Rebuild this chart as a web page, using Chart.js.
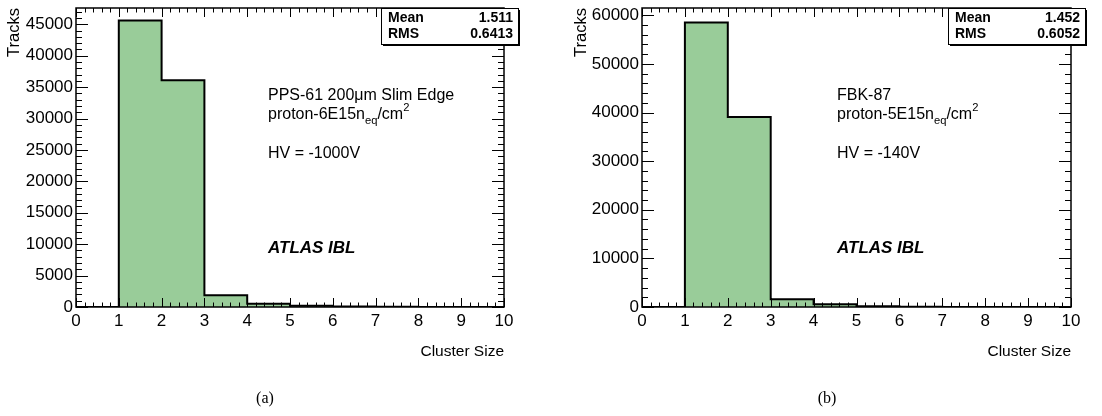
<!DOCTYPE html>
<html>
<head>
<meta charset="utf-8">
<script src="https://cdn.jsdelivr.net/npm/chart.js@4.4.1/dist/chart.umd.min.js"></script>
<style>
  body { margin: 0; background: #fff; }
  #wrap { position: relative; width: 1102px; height: 416px; }
  canvas { position: absolute; top: 0; }
</style>
</head>
<body>
<div id="wrap">
  <canvas id="chartA" width="551" height="416" style="left:0px"></canvas>
  <canvas id="chartB" width="551" height="416" style="left:551px"></canvas>
</div>
<script>
// bin edges of the cluster size histogram (0..10)
var binEdges = [0, 1, 2, 3, 4, 5, 6, 7, 8, 9, 10];
var xTicks = [0, 1, 2, 3, 4, 5, 6, 7, 8, 9, 10];

// (a) PPS-61 200um Slim Edge
var countsA = [0, 45600, 36100, 1860, 520, 200, 80, 35, 15, 8];
var yTicksA = [0, 5000, 10000, 15000, 20000, 25000, 30000, 35000, 40000, 45000];
var statsA = ["1.511", "0.6413"];

// (b) FBK-87
var countsB = [0, 58500, 39100, 1580, 550, 170, 60, 25, 10, 5];
var yTicksB = [0, 10000, 20000, 30000, 40000, 50000, 60000];
var statsB = ["1.452", "0.6052"];

var FONT = "'Liberation Sans', Arial, Helvetica, sans-serif";
var fillGreen = "#99cc99";

// turn the bins into points for a stepped line (left edge of each bin)
function histPoints(counts) {
    var pts = [];
    for (var i = 0; i < counts.length; i++) {
        pts.push({x: binEdges[i], y: counts[i]});
    }
    pts.push({x: binEdges[counts.length], y: counts[counts.length - 1]});
    return pts;
}

// text with subscript / superscript pieces: [text, shift] where shift 0 normal, 1 sub, -1 sup
function drawRich(ctx, parts, x, y, size) {
    var cx = x;
    for (var i = 0; i < parts.length; i++) {
        var t = parts[i][0], s = parts[i][1];
        var fs = s == 0 ? size : size * 0.7;
        ctx.font = fs + "px " + FONT;
        var dy = s == 1 ? size * 0.35 : (s == -1 ? -size * 0.45 : 0);
        ctx.fillText(t, cx, y + dy);
        cx += ctx.measureText(t).width;
    }
}

// ROOT style frame, inner ticks, stats box and labels
var rootDecor = {
    id: "rootDecor",
    afterDatasetsDraw: function(chart, args, opts) {
        var ctx = chart.ctx;
        var xs = chart.scales.x, ys = chart.scales.y;
        var a = chart.chartArea;
        ctx.save();
        ctx.strokeStyle = "#000";
        ctx.lineWidth = 1.5;
        ctx.strokeRect(a.left, a.top, a.right - a.left, a.bottom - a.top);

        // x ticks, top and bottom
        ctx.beginPath();
        for (var k = 0; k <= 50; k++) {
            var v = k * 0.2;
            var px = Math.round(xs.getPixelForValue(v)) + 0.5;
            var len = (k % 5 == 0) ? 9 : 4.5;
            ctx.moveTo(px, a.bottom); ctx.lineTo(px, a.bottom - len);
            ctx.moveTo(px, a.top); ctx.lineTo(px, a.top + len);
        }
        // y ticks, left and right
        var minor = opts.minorStep, major = opts.majorStep;
        for (var v2 = 0; v2 <= ys.max; v2 += minor) {
            var py = Math.round(ys.getPixelForValue(v2)) + 0.5;
            var l2 = (v2 % major == 0) ? 12 : 6;
            ctx.moveTo(a.left, py); ctx.lineTo(a.left + l2, py);
            ctx.moveTo(a.right, py); ctx.lineTo(a.right - l2, py);
        }
        ctx.lineWidth = 1;
        ctx.stroke();

        // axis titles
        ctx.fillStyle = "#000";
        ctx.font = "15.5px " + FONT;
        ctx.textAlign = "right";
        ctx.textBaseline = "middle";
        ctx.fillText("Cluster Size", a.right, 352);
        ctx.save();
        ctx.translate(opts.tracksX, a.top);
        ctx.rotate(-Math.PI / 2);
        ctx.font = "16.5px " + FONT;
        ctx.fillText("Tracks", 0, 0);
        ctx.restore();

        // stats box
        var b = opts.box;
        ctx.fillStyle = "#000";
        ctx.fillRect(b.x + 2, b.y + 2, b.w, b.h);
        ctx.fillStyle = "#fff";
        ctx.fillRect(b.x, b.y, b.w, b.h);
        ctx.lineWidth = 1;
        ctx.strokeRect(b.x + 0.5, b.y + 0.5, b.w, b.h);
        ctx.fillStyle = "#000";
        ctx.font = "bold 14px " + FONT;
        ctx.textAlign = "left";
        ctx.fillText("Mean", b.x + 7, b.y + b.h * 0.27);
        ctx.fillText("RMS", b.x + 7, b.y + b.h * 0.73);
        ctx.textAlign = "right";
        ctx.fillText(opts.stats[0], b.x + b.w - 5, b.y + b.h * 0.27);
        ctx.fillText(opts.stats[1], b.x + b.w - 5, b.y + b.h * 0.73);

        // detector labels
        ctx.textAlign = "left";
        ctx.font = "16px " + FONT;
        ctx.fillText(opts.name, opts.textX, 96);
        drawRich(ctx, [["proton-" + opts.fluence + "n", 0], ["eq", 1], ["/cm", 0], ["2", -1]], opts.textX, 115, 16);
        ctx.font = "16px " + FONT;
        ctx.fillText(opts.hv, opts.textX, 154);
        ctx.font = "italic bold 17px " + FONT;
        ctx.fillText("ATLAS IBL", opts.textX, 248);

        // panel letter
        ctx.font = "16px 'Liberation Serif', 'Times New Roman', serif";
        ctx.textAlign = "center";
        ctx.fillText(opts.letter, opts.letterX, 399);
        ctx.restore();
    }
};

function noComma(v) { return String(v); }

function makeChart(id, counts, yTicks, yMax, frameLeft, frameRight, decor) {
    return new Chart(document.getElementById(id), {
        type: "line",
        data: {
            datasets: [{
                data: histPoints(counts),
                stepped: "before",
                fill: "origin",
                backgroundColor: fillGreen,
                borderColor: "#000",
                borderWidth: 2,
                pointRadius: 0
            }]
        },
        options: {
            responsive: false,
            animation: false,
            devicePixelRatio: 1,
            layout: { padding: { left: 0, right: 551 - frameRight, top: 8, bottom: 0 } },
            plugins: {
                legend: { display: false },
                tooltip: { enabled: false },
                rootDecor: decor
            },
            scales: {
                x: {
                    type: "linear",
                    min: 0, max: 10,
                    grid: { display: false, drawTicks: false },
                    border: { display: false },
                    afterFit: function(s) { s.height = 416 - 307; s.paddingLeft = 0; s.paddingRight = 0; },
                    afterBuildTicks: function(s) { s.ticks = xTicks.map(function(v) { return {value: v}; }); },
                    ticks: { color: "#000", padding: 4, maxRotation: 0, autoSkip: false, callback: noComma, font: { family: FONT, size: 17 } }
                },
                y: {
                    min: 0, max: yMax,
                    grid: { display: false, drawTicks: false },
                    border: { display: false },
                    afterFit: function(s) { s.width = frameLeft; s.paddingTop = 0; s.paddingBottom = 0; },
                    afterBuildTicks: function(s) { s.ticks = yTicks.map(function(v) { return {value: v}; }); },
                    ticks: { color: "#000", padding: 3, callback: noComma, font: { family: FONT, size: 17 } }
                }
            }
        },
        plugins: [rootDecor]
    });
}

makeChart("chartA", countsA, yTicksA, 47600, 76, 504, {
    majorStep: 5000, minorStep: 1000, tracksX: 14,
    box: {x: 381, y: 8, w: 137, h: 36}, stats: statsA,
    name: "PPS-61 200\u03bcm Slim Edge", fluence: "6E15", hv: "HV = -1000V",
    textX: 268, letter: "(a)", letterX: 265
});

makeChart("chartB", countsB, yTicksB, 61500, 91, 520, {
    majorStep: 10000, minorStep: 2000, tracksX: 30,
    box: {x: 397, y: 8, w: 137, h: 36}, stats: statsB,
    name: "FBK-87", fluence: "5E15", hv: "HV = -140V",
    textX: 286, letter: "(b)", letterX: 276
});
</script>
</body>
</html>
